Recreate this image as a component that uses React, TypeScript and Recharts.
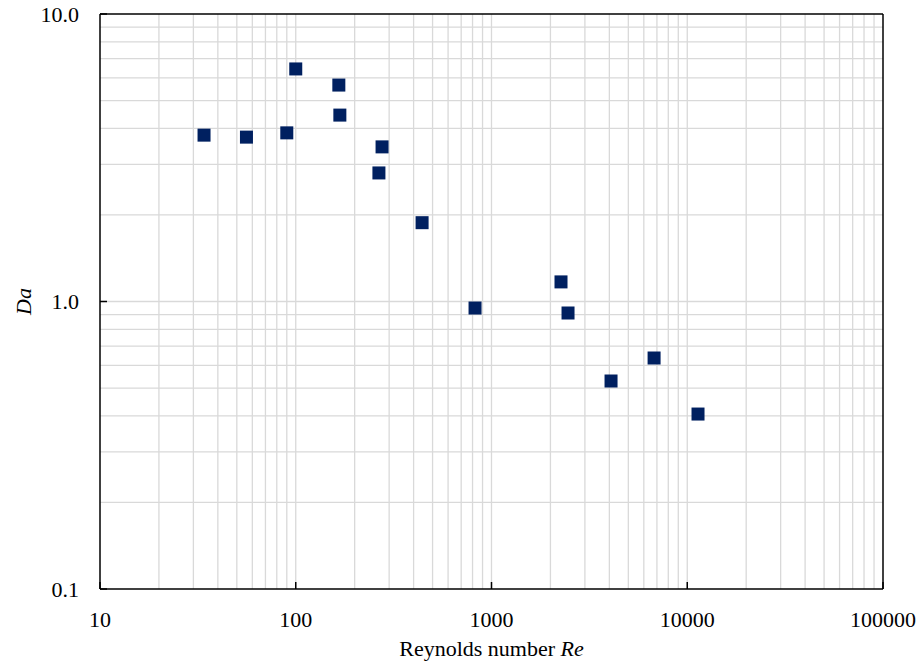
import { ScatterChart, Scatter, XAxis, YAxis, ReferenceLine, Label } from 'recharts'

// Reynolds number vs Damköhler number
const reValues = [34, 56, 90, 100, 166, 168, 276, 266, 442, 824, 2265, 2460, 4080, 6770, 11350]
const daValues = [3.79, 3.73, 3.86, 6.44, 5.66, 4.45, 3.45, 2.8, 1.88, 0.949, 1.17, 0.912, 0.529, 0.636, 0.406]

const xTicks = [10, 100, 1000, 10000, 100000]
const yTicks = [0.1, 1, 10]

const xDecades = [10, 100, 1000, 10000]
const yDecades = [0.1, 1]
const steps = [1, 2, 3, 4, 5, 6, 7, 8, 9]

const xGrid = xDecades.flatMap(d => steps.map(s => s * d)).filter(v => v > 10)
const yGrid = yDecades.flatMap(d => steps.map(s => +(s * d).toFixed(2))).filter(v => v > 0.1)

const data = reValues.map((re, i) => ({ re, da: daValues[i] }))

const FONT = '"Liberation Serif", "Times New Roman", serif'
const GRID = '#d9d9d9'

const SquareDot = (props: any) => {
  const { cx, cy } = props
  if (cx == null || cy == null) return null
  return <rect x={cx - 6.5} y={cy - 6.5} width={13} height={13} fill="#002060" />
}

export default function App() {
  return (
    <div style={{ position: 'absolute', left: 0, top: 0, background: '#fff' }}>
      <ScatterChart width={921} height={665} margin={{ top: 14, right: 38, bottom: 0, left: 0 }}>
        {xGrid.map(v => (
          <ReferenceLine key={`gx-${v}`} x={v} stroke={GRID} strokeWidth={1.3} />
        ))}
        {yGrid.map(v => (
          <ReferenceLine key={`gy-${v}`} y={v} stroke={GRID} strokeWidth={1.3} />
        ))}
        <ReferenceLine x={100000} stroke="#000" strokeWidth={1.5} />
        <ReferenceLine y={10} stroke="#000" strokeWidth={1.5} />
        <XAxis
          type="number"
          dataKey="re"
          scale="log"
          domain={[10, 100000]}
          ticks={xTicks}
          allowDataOverflow
          height={76}
          tickSize={-7}
          tickMargin={29}
          axisLine={{ stroke: '#000', strokeWidth: 1.5 }}
          tickLine={{ stroke: '#000', strokeWidth: 1.5 }}
          tick={{ fontSize: 22, fill: '#000', fontFamily: FONT }}
          interval={0}
        >
          <Label
            content={({ viewBox }: any) => (
              <text
                x={viewBox.x + viewBox.width / 2}
                y={viewBox.y + 67}
                textAnchor="middle"
                fontSize={22}
                fontFamily={FONT}
                fill="#000"
              >
                Reynolds number <tspan fontStyle="italic">Re</tspan>
              </text>
            )}
          />
        </XAxis>
        <YAxis
          type="number"
          dataKey="da"
          scale="log"
          domain={[0.1, 10]}
          ticks={yTicks}
          allowDataOverflow
          width={100}
          tickSize={-7}
          tickMargin={28}
          tickFormatter={(v: number) => v.toFixed(1)}
          axisLine={{ stroke: '#000', strokeWidth: 1.5 }}
          tickLine={{ stroke: '#000', strokeWidth: 1.5 }}
          tick={{ fontSize: 22, fill: '#000', fontFamily: FONT }}
          interval={0}
        >
          <Label
            content={({ viewBox }: any) => {
              const cx = 31
              const cy = viewBox.y + viewBox.height / 2
              return (
                <text
                  x={cx}
                  y={cy}
                  transform={`rotate(-90 ${cx} ${cy})`}
                  textAnchor="middle"
                  fontSize={22}
                  fontStyle="italic"
                  fontFamily={FONT}
                  fill="#000"
                >
                  Da
                </text>
              )
            }}
          />
        </YAxis>
        <Scatter data={data} shape={SquareDot} isAnimationActive={false} />
      </ScatterChart>
    </div>
  )
}
